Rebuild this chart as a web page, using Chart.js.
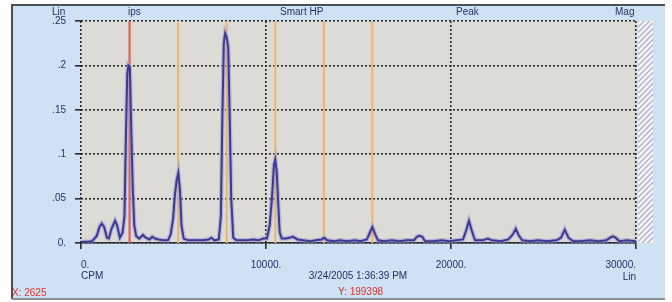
<!DOCTYPE html>
<html>
<head>
<meta charset="utf-8">
<script src="https://cdn.jsdelivr.net/npm/chart.js@4.4.1/dist/chart.umd.min.js"></script>
<style>
  html, body { margin: 0; padding: 0; background: #ffffff; }
  #wrap { width: 672px; height: 302px; position: relative; }
</style>
</head>
<body>
<div id="wrap"><canvas id="c" width="672" height="302"></canvas></div>
<script>
// ---- data ----
const spectrumCpm = [0,300,600,850,1000,1120,1250,1400,1500,1650,1840,1950,2100,2250,2350,2430,2500,2560,2640,2720,2800,2880,2980,3150,3350,3500,3700,3850,4000,4200,4450,4700,4850,4980,5080,5180,5260,5350,5430,5550,5800,6200,6600,6900,7060,7200,7450,7560,7640,7720,7790,7870,7960,8040,8120,8230,8400,8700,9000,9300,9600,9850,10050,10200,10320,10430,10500,10580,10660,10740,10850,11100,11460,11700,12000,12400,12700,13000,13150,13300,13700,14000,14400,14800,15100,15450,15600,15750,15900,16050,16400,16800,17200,17600,18000,18150,18300,18450,18600,19000,19500,19900,20300,20650,20820,20970,21120,21300,21700,22000,22200,22700,23100,23350,23500,23650,23850,24300,24700,25200,25700,25950,26150,26350,26600,27000,27500,28000,28400,28600,28750,28900,29100,29500,30000];
const spectrumIps = [0.001,0.0015,0.002,0.008,0.018,0.022,0.018,0.006,0.005,0.016,0.025,0.02,0.006,0.012,0.03,0.122,0.19,0.2,0.198,0.125,0.06,0.02,0.008,0.005,0.009,0.006,0.004,0.007,0.005,0.004,0.003,0.003,0.01,0.028,0.055,0.072,0.079,0.06,0.02,0.005,0.003,0.003,0.003,0.004,0.006,0.003,0.004,0.03,0.14,0.225,0.236,0.232,0.22,0.14,0.05,0.006,0.003,0.003,0.003,0.004,0.003,0.005,0.005,0.02,0.05,0.088,0.094,0.08,0.045,0.012,0.005,0.005,0.007,0.004,0.003,0.002,0.003,0.004,0.006,0.003,0.002,0.003,0.002,0.003,0.002,0.004,0.011,0.018,0.01,0.003,0.002,0.003,0.002,0.003,0.003,0.007,0.008,0.007,0.002,0.002,0.003,0.002,0.003,0.004,0.014,0.025,0.014,0.003,0.003,0.005,0.003,0.002,0.004,0.01,0.016,0.009,0.003,0.002,0.003,0.002,0.003,0.006,0.015,0.006,0.002,0.002,0.003,0.002,0.003,0.006,0.0075,0.006,0.002,0.003,0.002];

const cursorCpm = [2625];                           // red cursor
const harmonicCpm = [5250, 7875, 10500, 13125, 15750]; // orange harmonic markers

const xTickValues = [0, 10000, 20000, 30000];
const xTickLabels = ['0.', '10000.', '20000.', '30000.'];
const yTickValues = [0, 0.05, 0.1, 0.15, 0.2, 0.25];
const yTickLabels = ['0.', '.05', '.1', '.15', '.2', '.25'];

const headerLabels = ['Lin', 'ips', 'Smart HP', 'Peak', 'Mag'];
const xUnitLabel = 'CPM';
const xScaleLabel = 'Lin';
const dateLabel = '3/24/2005 1:36:39 PM';
const cursorXLabel = 'X: 2625';
const cursorYLabel = 'Y: 199398';

// ---- build datasets ----
const spectrumPts = spectrumCpm.map((x, i) => ({x: x, y: spectrumIps[i]}));
const datasets = [
  {data: spectrumPts, borderColor: '#3b3990', borderWidth: 2, pointRadius: 0, tension: 0, order: 0},
  {data: spectrumPts, borderColor: 'rgba(150,148,215,0.55)', borderWidth: 4.5, pointRadius: 0, tension: 0, order: 1}
];
cursorCpm.forEach(c => datasets.push({data: [{x: c, y: 0}, {x: c, y: 0.25}], borderColor: '#e2605a', borderWidth: 2.2, pointRadius: 0, order: 2}));
harmonicCpm.forEach(c => datasets.push({data: [{x: c, y: 0}, {x: c, y: 0.25}], borderColor: '#eeb46c', borderWidth: 2, pointRadius: 0, order: 2}));

const FONT = '"Liberation Sans", Arial, sans-serif';
const TXT = '#22306e';

const bgPlugin = {
  id: 'bg',
  beforeDraw(chart) {
    const ctx = chart.ctx, a = chart.chartArea;
    ctx.save();
    ctx.fillStyle = '#ffffff';
    ctx.fillRect(0, 0, chart.width, chart.height);
    ctx.fillStyle = '#cfe2f3';
    ctx.fillRect(12, 5, 653, 294);
    ctx.strokeStyle = '#4a4f58';
    ctx.lineWidth = 2;
    ctx.beginPath(); ctx.moveTo(12, 299); ctx.lineTo(12, 5); ctx.lineTo(665, 5); ctx.stroke();
    ctx.strokeStyle = '#8a9098';
    ctx.lineWidth = 2;
    ctx.beginPath(); ctx.moveTo(12, 299); ctx.lineTo(665, 299); ctx.stroke();
    // plot background
    ctx.fillStyle = '#dddbd6';
    ctx.fillRect(a.left, a.top, a.right - a.left, a.bottom - a.top);
    // hatched strip
    const hx = a.right + 2, hw = 15;
    ctx.fillStyle = '#f4f4f8';
    ctx.fillRect(hx, a.top, hw, a.bottom - a.top);
    ctx.beginPath(); ctx.rect(hx, a.top, hw, a.bottom - a.top); ctx.clip();
    ctx.strokeStyle = '#aaa9bd';
    ctx.lineWidth = 1.2;
    for (let y = a.top - 20; y < a.bottom + 20; y += 5.5) {
      ctx.beginPath(); ctx.moveTo(hx, y + hw); ctx.lineTo(hx + hw, y); ctx.stroke();
    }
    ctx.restore();
  },
  afterDraw(chart) {
    const ctx = chart.ctx, a = chart.chartArea;
    ctx.save();
    ctx.font = '10px ' + FONT;
    ctx.fillStyle = TXT;
    ctx.textBaseline = 'middle';
    const hx = [52, 128, 280, 456, 615];
    headerLabels.forEach((t, i) => { ctx.textAlign = 'left'; ctx.fillText(t, hx[i], 12); });
    ctx.textAlign = 'left';
    ctx.fillText(xUnitLabel, a.left, 276);
    ctx.textAlign = 'right';
    ctx.fillText(xScaleLabel, a.right, 277);
    ctx.textAlign = 'center';
    ctx.fillText(dateLabel, 358, 276);
    ctx.fillStyle = '#e0302a';
    ctx.textAlign = 'left';
    ctx.fillText(cursorXLabel, 12, 293);
    ctx.fillText(cursorYLabel, 338, 292);
    ctx.restore();
  }
};

new Chart(document.getElementById('c'), {
  type: 'scatter',
  data: {datasets: datasets},
  plugins: [bgPlugin],
  options: {
    responsive: false,
    animation: false,
    showLine: true,
    layout: {padding: {top: 21, right: 36, left: 0, bottom: 0}},
    plugins: {legend: {display: false}, tooltip: {enabled: false}},
    elements: {line: {borderCapStyle: 'butt'}},
    scales: {
      x: {
        type: 'linear', min: 0, max: 30000,
        afterBuildTicks: s => { s.ticks = xTickValues.map(v => ({value: v})); },
        afterFit: s => { s.height = 59; },
        ticks: {
          align: 'inner', maxRotation: 0, padding: 10, color: TXT,
          font: {family: FONT, size: 10},
          callback: v => { const i = xTickValues.indexOf(v); return i >= 0 ? xTickLabels[i] : ''; }
        },
        grid: {color: '#2a2a2a', lineWidth: 1.6, tickLength: 6, tickColor: '#2a2a2a', tickWidth: 1.6},
        border: {display: true, color: '#2a2a30', width: 1.6, dash: [2, 2]}
      },
      y: {
        type: 'linear', min: 0, max: 0.25,
        afterBuildTicks: s => { s.ticks = yTickValues.map(v => ({value: v})); },
        afterFit: s => { s.width = 81; },
        ticks: {
          padding: 9, color: TXT,
          font: {family: FONT, size: 10},
          callback: v => { const i = yTickValues.findIndex(t => Math.abs(t - v) < 1e-9); return i >= 0 ? yTickLabels[i] : ''; }
        },
        grid: {color: '#2a2a2a', lineWidth: 1.6, tickLength: 6, tickColor: '#2a2a2a', tickWidth: 1.6},
        border: {display: false, dash: [2, 2]}
      }
    }
  }
});
</script>
</body>
</html>
